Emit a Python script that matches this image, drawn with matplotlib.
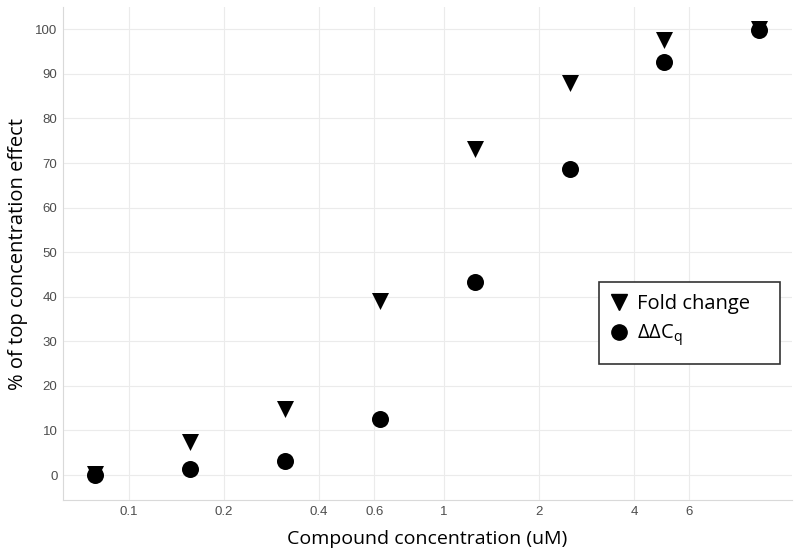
import matplotlib
matplotlib.use("Agg")
import matplotlib.pyplot as plt
from matplotlib.patches import Rectangle
from matplotlib.lines import Line2D
from matplotlib.ticker import FixedLocator, NullLocator

concentration = [0.078, 0.156, 0.3125, 0.625, 1.25, 2.5, 5.0, 10.0]
fold_change = [0.3, 7.5, 14.8, 39.1, 73.1, 87.9, 97.5, 100.1]
ddcq = [0.0, 1.3, 3.2, 12.5, 43.3, 68.6, 92.7, 99.8]
x_ticks = [0.1, 0.2, 0.4, 0.6, 1, 2, 4, 6]
x_tick_labels = ["0.1", "0.2", "0.4", "0.6", "1", "2", "4", "6"]
y_ticks = [0, 10, 20, 30, 40, 50, 60, 70, 80, 90, 100]

label_font = "Open Sans"
tick_font = "Liberation Sans"

fig = plt.figure(figsize=(8, 5.56), dpi=100)
ax = fig.add_axes([0.07875, 0.1007, 0.99 - 0.07875, 0.9874 - 0.1007])

ax.set_xscale("log")
ax.set_xlim(0.0617, 12.7)
ax.set_ylim(-5.6, 105)

ax.scatter(concentration, fold_change, marker="v", s=150, color="black", zorder=3, linewidths=0)
ax.scatter(concentration, ddcq, marker="o", s=150, color="black", zorder=4, linewidths=0)

ax.xaxis.set_major_locator(FixedLocator(x_ticks))
ax.xaxis.set_minor_locator(NullLocator())
ax.set_xticklabels(x_tick_labels)
ax.set_yticks(y_ticks)

ax.grid(True, color="#ebebeb", linewidth=0.8)
ax.set_axisbelow(True)
for s in ["top", "right"]:
    ax.spines[s].set_visible(False)
for s in ["left", "bottom"]:
    ax.spines[s].set_color("#d9d9d9")
    ax.spines[s].set_linewidth(0.8)

ax.tick_params(length=0, pad=4, labelsize=9.5, labelcolor="#4d4d4d")
for lab in ax.get_xticklabels() + ax.get_yticklabels():
    lab.set_fontfamily(tick_font)

ax.set_xlabel("Compound concentration (uM)", fontfamily=label_font, fontsize=14, labelpad=9)
ax.set_ylabel("% of top concentration effect", fontfamily=label_font, fontsize=14.5, labelpad=5)

# legend box
fig.patches.append(Rectangle((599 / 800, 1 - 364 / 556), (780 - 599) / 800, (364 - 282) / 556,
                             transform=fig.transFigure, fill=True, facecolor="white",
                             edgecolor="#333333", linewidth=1.2, zorder=5))
handles = [Line2D([], [], marker="v", linestyle="none", color="black", markersize=11),
           Line2D([], [], marker="o", linestyle="none", color="black", markersize=11)]
leg = fig.legend(handles, ["Fold change", r"ΔΔC$_\mathregular{q}$"],
                 loc="upper left", bbox_to_anchor=(609 / 800, 1 - 293.7 / 556),
                 frameon=False, prop={"family": label_font, "size": 14.5},
                 handlelength=1.0, handletextpad=0.38, labelspacing=0.42,
                 borderpad=0.0, borderaxespad=0.0)
leg.set_zorder(6)

fig.savefig("out.png", dpi=100)
